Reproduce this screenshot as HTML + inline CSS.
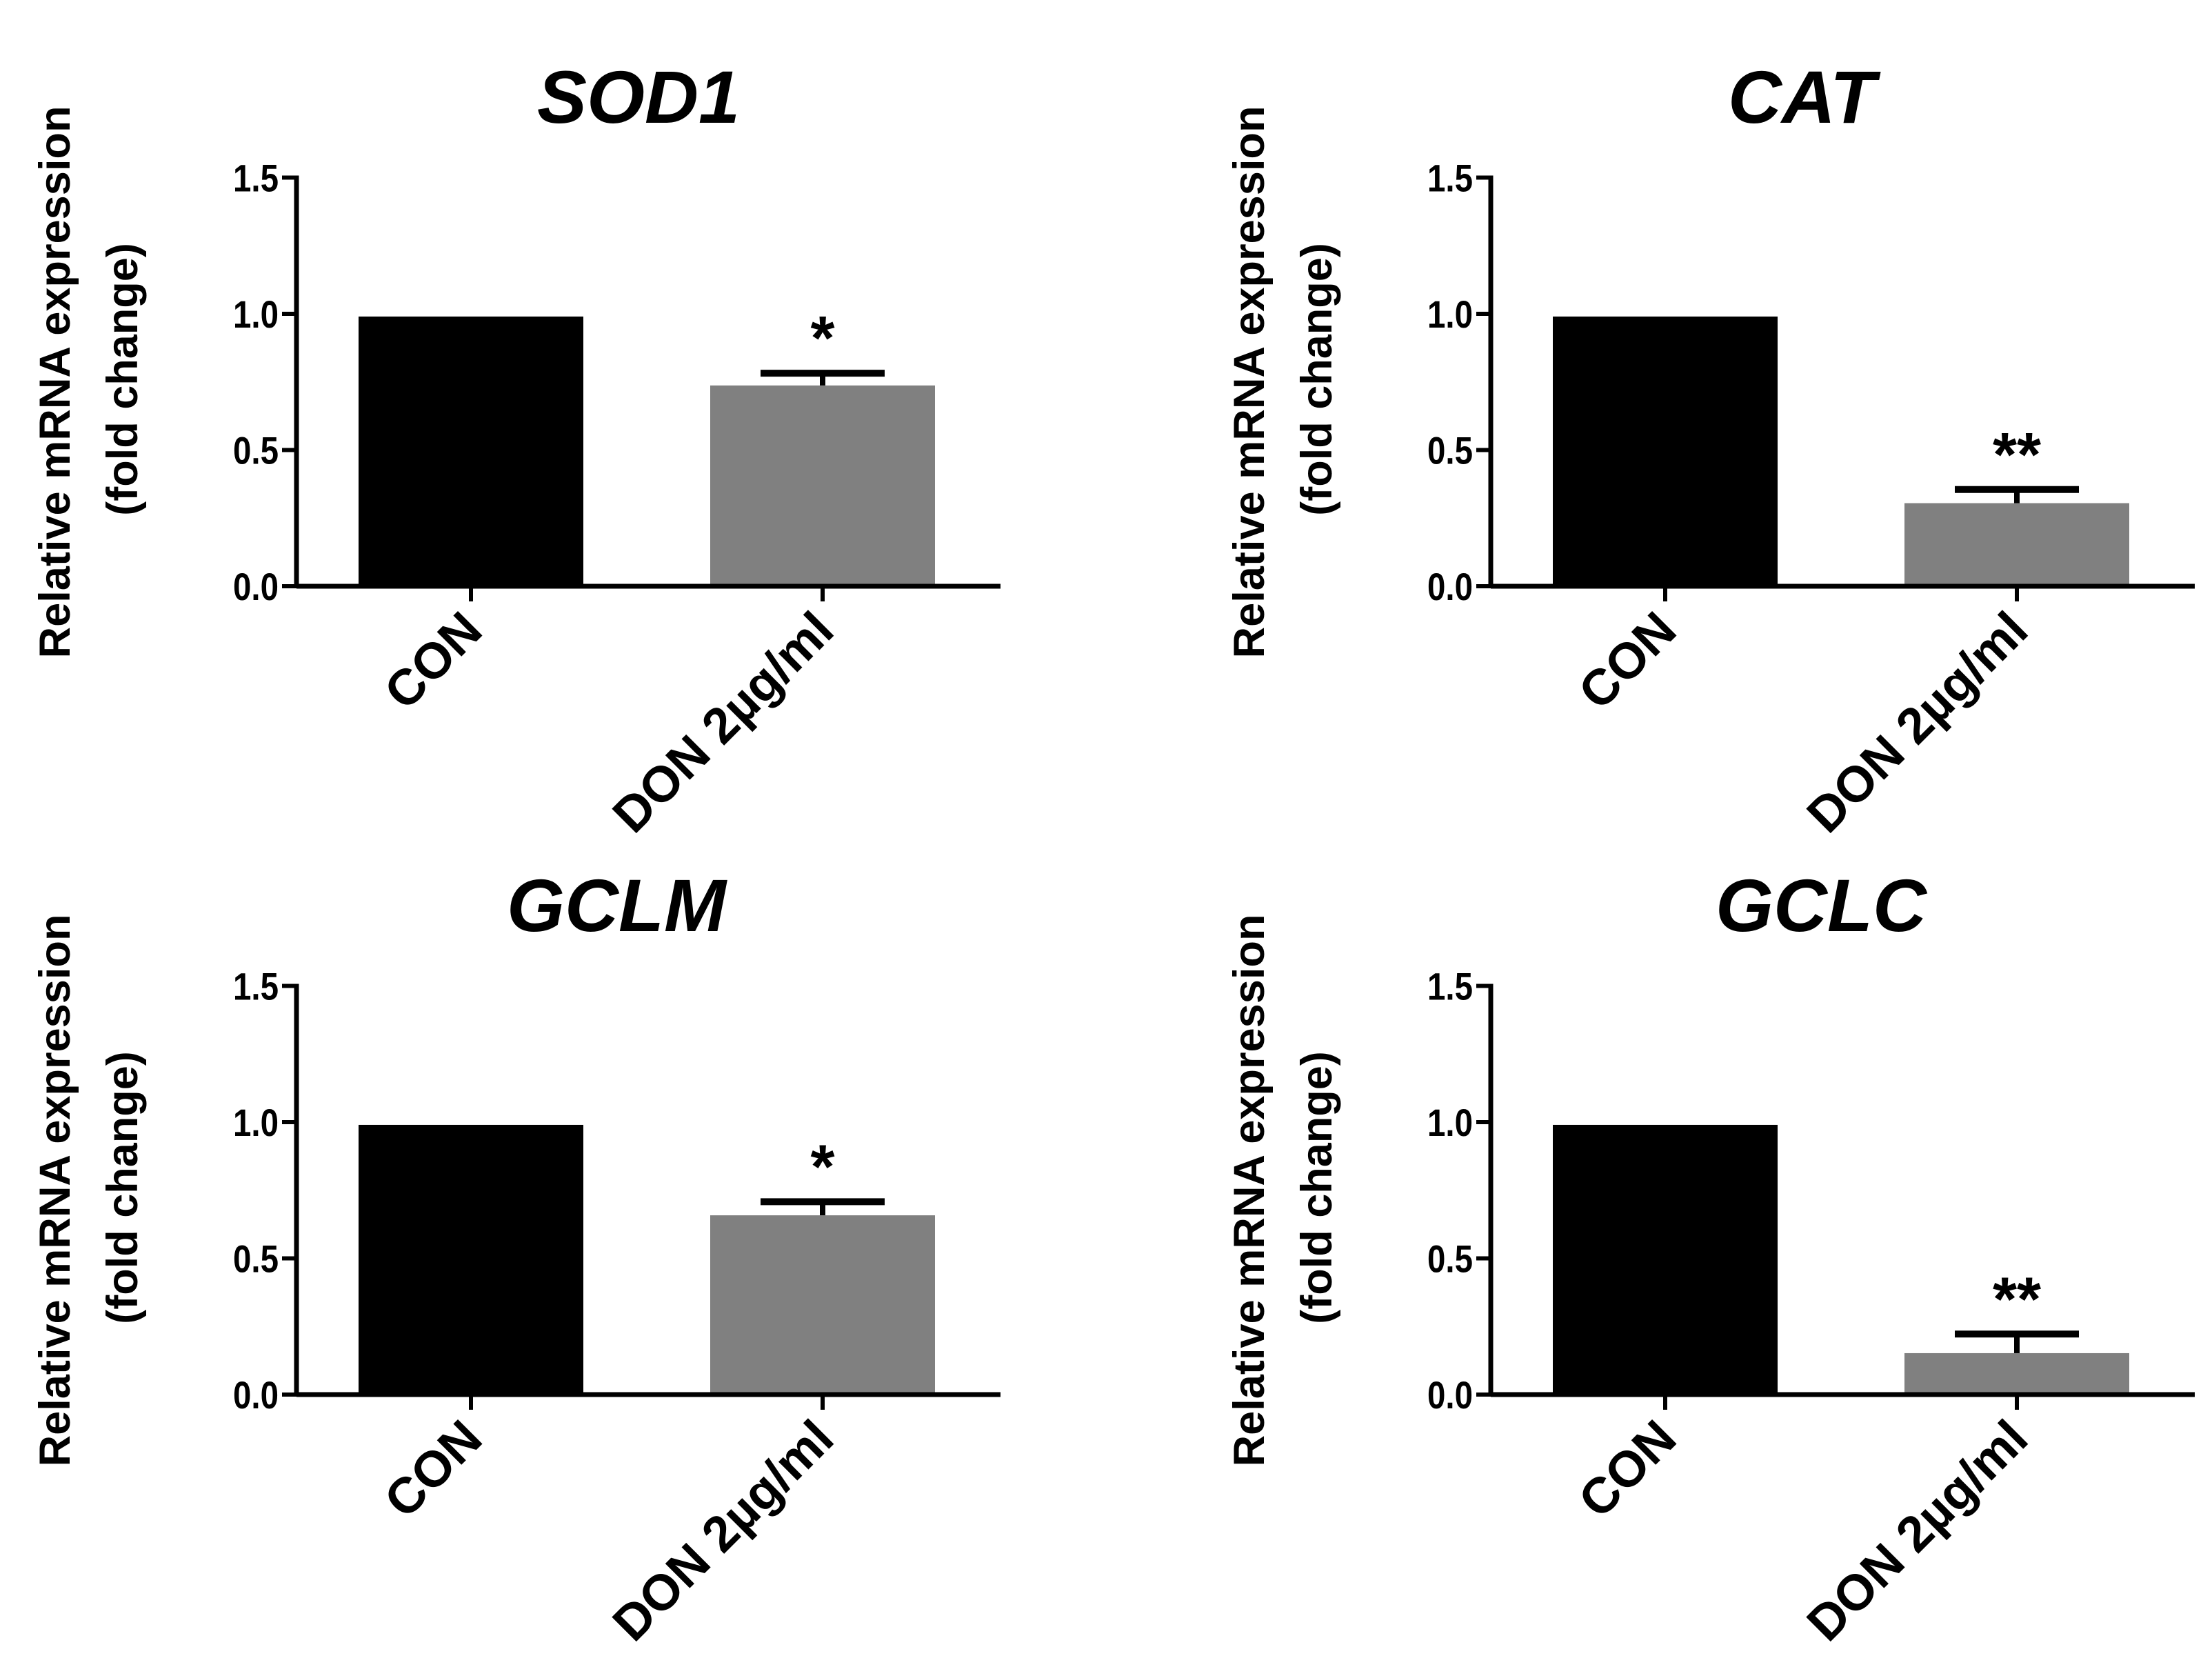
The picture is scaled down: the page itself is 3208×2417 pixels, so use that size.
<!DOCTYPE html>
<html><head><meta charset="utf-8"><style>
html,body{margin:0;padding:0;background:#fff;}
svg{display:block;}
text{font-family:"Liberation Sans",Arial,sans-serif;font-weight:bold;fill:#000;}
</style></head>
<body>
<svg id="fig" width="3208" height="2417" viewBox="0 0 3208 2417" xmlns="http://www.w3.org/2000/svg">
<rect width="3208" height="2417" fill="#fff"/>
</svg>
<script>
const genes = ["SOD1","CAT","GCLM","GCLC"];
const categories = ["CON","DON 2\u00b5g/ml"];
const conValues = [0.99,0.99,0.99,0.99];
const donValues = [0.737,0.305,0.658,0.152];
const donErrors = [0.045,0.05,0.05,0.07];
const significance = ["*","**","*","**"];
const yTicks = [0,0.5,1.0,1.5];
const yTickLabels = ["0.0","0.5","1.0","1.5"];
const titleX = [926,2613,894,2641];

const NS="http://www.w3.org/2000/svg";
const svg=document.getElementById('fig');
function mk(tag,attrs,parent){const e=document.createElementNS(NS,tag);for(const k in attrs)e.setAttribute(k,attrs[k]);(parent||svg).appendChild(e);return e;}

const offX=[0,1732,0,1732], offY=[0,0,1172,1172];
const unit=395, barW=326, centers=[683,1193];
const fills=["#000","#808080"];

genes.forEach((g,i)=>{
  const ox=offX[i], oy=offY[i];
  const zero=850+oy, axX=430+ox;
  const yS=v=>zero-v*unit;
  const xS=k=>centers[k]+ox;
  const grp=mk('g',{});
  
  

  const t=mk('text',{x:titleX[i],y:178+oy,'font-size':108,'font-style':'italic','text-anchor':'middle'},grp);
  t.textContent=g;
  
  

  const yl1=mk('text',{transform:`translate(${101+ox},${554+oy}) rotate(-90)`,'font-size':63,'text-anchor':'middle',textLength:801,lengthAdjust:'spacingAndGlyphs'},grp);
  yl1.textContent="Relative mRNA expression";
  
  
  const yl2=mk('text',{transform:`translate(${199+ox},${550+oy}) rotate(-90)`,'font-size':63,'text-anchor':'middle'},grp);
  yl2.textContent="(fold change)";
  
  

  [conValues[i],donValues[i]].forEach((v,k)=>{
    const r=mk('rect',{x:xS(k)-barW/2,y:yS(v),width:barW,height:zero-yS(v),fill:fills[k]},grp);
    
    
  });
  const top=yS(donValues[i]+donErrors[i]);
  const st=mk('line',{x1:xS(1),x2:xS(1),y1:yS(donValues[i]),y2:top,stroke:'#000','stroke-width':8},grp);
  
  
  const cap=mk('line',{x1:xS(1)-90,x2:xS(1)+90,y1:top,y2:top,stroke:'#000','stroke-width':10},grp);
  
  
  const s=mk('text',{x:xS(1),y:top-20,'font-size':90,'text-anchor':'middle'},grp);
  s.textContent=significance[i];
  
  

  const ya=mk('line',{x1:axX,x2:axX,y1:yS(1.5)-3,y2:zero+3,stroke:'#000','stroke-width':7},grp);
  
  
  const xa=mk('line',{x1:axX,x2:1451+ox,y1:zero,y2:zero,stroke:'#000','stroke-width':7},grp);
  
  
  yTicks.forEach((v,j)=>{
    const tk=mk('line',{x1:409+ox,x2:axX,y1:yS(v),y2:yS(v),stroke:'#000','stroke-width':6},grp);
    
    
    const tl=mk('text',{x:404+ox,y:yS(v)+20,'font-size':56,'text-anchor':'end',textLength:66,lengthAdjust:'spacingAndGlyphs'},grp);
    tl.textContent=yTickLabels[j];
    
    
  });
  categories.forEach((c,k)=>{
    const tk=mk('line',{x1:xS(k),x2:xS(k),y1:zero,y2:zero+22,stroke:'#000','stroke-width':6},grp);
    
    
    const xl=mk('text',{transform:`translate(${xS(k)+20},${zero+68}) rotate(-45)`,'font-size':73,'text-anchor':'end'},grp);
    xl.textContent=c;
    
    
  });
});
</script>
</body></html>
